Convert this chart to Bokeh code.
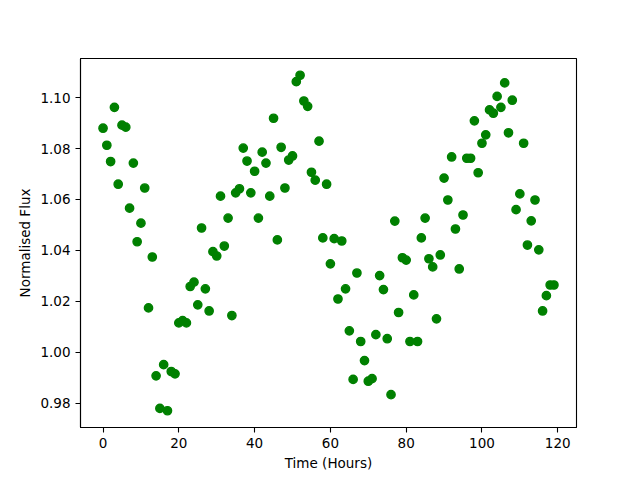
from bokeh.plotting import figure
from bokeh.models import Range1d, FixedTicker, NumeralTickFormatter
from bokeh.embed import file_html
from bokeh.resources import INLINE

time_hours = [
    0, 1, 2, 3, 4, 5, 6, 7, 8, 9, 10, 11, 12, 13, 14, 15, 16, 17, 18, 19,
    20, 21, 22, 23, 24, 25, 26, 27, 28, 29, 30, 31, 32, 33, 34, 35, 36, 37, 38, 39,
    40, 41, 42, 43, 44, 45, 46, 47, 48, 49, 50, 51, 52, 53, 54, 55, 56, 57, 58, 59,
    60, 61, 62, 63, 64, 65, 66, 67, 68, 69, 70, 71, 72, 73, 74, 75, 76, 77, 78, 79,
    80, 81, 82, 83, 84, 85, 86, 87, 88, 89, 90, 91, 92, 93, 94, 95, 96, 97, 98, 99,
    100, 101, 102, 103, 104, 105, 106, 107, 108, 109, 110, 111, 112, 113, 114, 115, 116, 117, 118, 119,
]

flux = [
    1.0880, 1.0813, 1.0749, 1.0962, 1.0660, 1.0892, 1.0884, 1.0566, 1.0743, 1.0434,
    1.0507, 1.0645, 1.0174, 1.0374, 0.9907, 0.9779, 0.9951, 0.9770, 0.9924, 0.9915,
    1.0115, 1.0124, 1.0115, 1.0258, 1.0275, 1.0186, 1.0488, 1.0249, 1.0162, 1.0395,
    1.0378, 1.0613, 1.0417, 1.0527, 1.0144, 1.0626, 1.0642, 1.0802, 1.0751, 1.0626,
    1.0711, 1.0527, 1.0786, 1.0743, 1.0613, 1.0919, 1.0441, 1.0805, 1.0645, 1.0755,
    1.0771, 1.1063, 1.1088, 1.0987, 1.0966, 1.0707, 1.0676, 1.0829, 1.0449, 1.0660,
    1.0347, 1.0446, 1.0209, 1.0437, 1.0249, 1.0084, 0.9893, 1.0311, 1.0042, 0.9967,
    0.9886, 0.9896, 1.0069, 1.0301, 1.0246, 1.0053, 0.9833, 1.0515, 1.0156, 1.0371,
    1.0362, 1.0042, 1.0225, 1.0042, 1.0449, 1.0527, 1.0367, 1.0335, 1.0131, 1.0382,
    1.0684, 1.0598, 1.0767, 1.0484, 1.0327, 1.0539, 1.0762, 1.0762, 1.0909, 1.0705,
    1.0821, 1.0854, 1.0952, 1.0939, 1.1005, 1.0962, 1.1058, 1.0862, 1.0990, 1.0560,
    1.0622, 1.0821, 1.0421, 1.0516, 1.0598, 1.0402, 1.0162, 1.0222, 1.0264, 1.0264,
]

x_ticks = [0, 20, 40, 60, 80, 100, 120]
y_ticks = [0.98, 1.00, 1.02, 1.04, 1.06, 1.08, 1.10]

# matplotlib-style 5% margins
xmin, xmax = min(time_hours), max(time_hours)
ymin, ymax = min(flux), max(flux)
xpad = 0.05 * (xmax - xmin)
ypad = 0.05 * (ymax - ymin)

p = figure(
    width=640, height=480,
    output_backend="svg", toolbar_location=None,
    x_range=Range1d(xmin - xpad, xmax + xpad),
    y_range=Range1d(ymin - ypad, ymax + ypad),
    min_border_left=80, min_border_right=64,
    min_border_top=58, min_border_bottom=53,
)

p.scatter(time_hours, flux, size=8.3, fill_color="#008000",
          line_color="#008000", line_width=1.4)

p.grid.visible = False
p.outline_line_color = "black"
p.outline_line_width = 1.1
p.background_fill_color = "white"
p.border_fill_color = "white"

p.xaxis.ticker = FixedTicker(ticks=x_ticks)
p.yaxis.ticker = FixedTicker(ticks=y_ticks)
p.yaxis.formatter = NumeralTickFormatter(format="0.00")
p.xaxis.axis_label = "Time (Hours)"
p.yaxis.axis_label = "Normalised Flux"

for ax in (p.xaxis, p.yaxis):
    ax.axis_line_color = "black"
    ax.axis_line_width = 1.1
    ax.major_tick_line_color = "black"
    ax.major_tick_line_width = 1.1
    ax.major_tick_in = 0
    ax.major_tick_out = 5
    ax.minor_tick_line_color = None
    ax.major_label_text_font = "DejaVu Sans"
    ax.major_label_text_font_size = "13.5px"
    ax.major_label_text_color = "black"
    ax.axis_label_text_font = "DejaVu Sans"
    ax.axis_label_text_font_size = "13.5px"
    ax.axis_label_text_font_style = "normal"
    ax.axis_label_text_color = "black"
    ax.major_label_standoff = 5

p.xaxis.axis_label_standoff = 4
p.yaxis.axis_label_standoff = 4

open("out.html", "w").write(file_html(p, INLINE))
